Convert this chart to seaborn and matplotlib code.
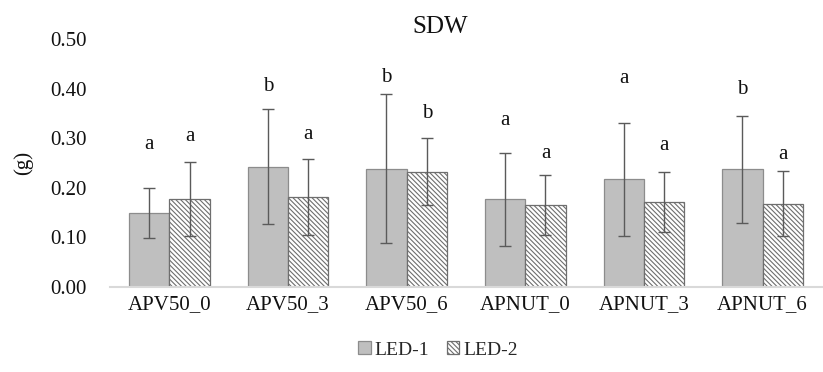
import pandas as pd
import numpy as np
import matplotlib.pyplot as plt
import seaborn as sns
from matplotlib.patches import Patch

# values
treatments = ['APV50_0', 'APV50_3', 'APV50_6', 'APNUT_0', 'APNUT_3', 'APNUT_6']
led1_mean = [0.149, 0.243, 0.239, 0.177, 0.218, 0.238]
led1_sd = [0.051, 0.116, 0.150, 0.094, 0.114, 0.108]
led2_mean = [0.178, 0.182, 0.233, 0.166, 0.172, 0.168]
led2_sd = [0.074, 0.077, 0.068, 0.060, 0.061, 0.066]
led1_letters = ['a', 'b', 'b', 'a', 'a', 'b']
led2_letters = ['a', 'a', 'b', 'a', 'a', 'a']
led1_letter_y = [0.287, 0.405, 0.424, 0.337, 0.422, 0.398]
led2_letter_y = [0.303, 0.309, 0.351, 0.269, 0.285, 0.267]

df = pd.DataFrame({
    'Treatment': treatments * 2,
    'Light': ['LED-1'] * 6 + ['LED-2'] * 6,
    'SDW': led1_mean + led2_mean,
    'SD': led1_sd + led2_sd,
})

sns.set_style('white')
plt.rcParams['font.family'] = ['Liberation Serif', 'DejaVu Serif']
plt.rcParams['hatch.linewidth'] = 0.8

HATCH = '\\' * 7

fig = plt.figure(figsize=(8.23, 3.72), dpi=100)
ax = fig.add_axes([0.1337, 0.2285, 0.865, 0.6655])

sns.barplot(data=df, x='Treatment', y='SDW', hue='Light', order=treatments,
            hue_order=['LED-1', 'LED-2'], palette=['#bfbfbf', 'white'],
            width=0.68, errorbar=None, edgecolor='#8c8c8c', linewidth=0.9,
            legend=False, ax=ax)

bars = ax.patches
led1_bars = bars[:6]
led2_bars = bars[6:12]
for b in led2_bars:
    b.set_hatch(HATCH)
    b.set_edgecolor('#6e6e6e')

for group, means, sds, letters, ly in [
        (led1_bars, led1_mean, led1_sd, led1_letters, led1_letter_y),
        (led2_bars, led2_mean, led2_sd, led2_letters, led2_letter_y)]:
    xs = [b.get_x() + b.get_width() / 2 for b in group]
    ax.errorbar(xs, means, yerr=sds, fmt='none', ecolor='#5a5a5a',
                elinewidth=1, capsize=4.3, capthick=1)
    for x, t, y in zip(xs, letters, ly):
        ax.text(x, y, t, ha='center', va='center', fontsize=15, color='#111111')

ax.set_ylim(0, 0.5)
ax.set_xlim(-0.5, 5.5)
ax.set_yticks(np.arange(0, 0.51, 0.1))
ax.set_yticklabels([f'{v:.2f}' for v in np.arange(0, 0.51, 0.1)])
ax.tick_params(axis='both', length=0, labelsize=15, colors='#111111')
ax.tick_params(axis='y', pad=17)
ax.tick_params(axis='x', pad=6)
ax.set_xlabel('')
ax.set_ylabel('(g)', fontsize=15, labelpad=12, color='#111111')
for s in ['top', 'right', 'left']:
    ax.spines[s].set_visible(False)
ax.spines['bottom'].set_color('#d9d9d9')
ax.spines['bottom'].set_linewidth(1.5)

fig.text(440 / 823, 1 - 27 / 372, 'SDW', ha='center', va='center',
         fontsize=18, color='#111111')

handles = [Patch(facecolor='#bfbfbf', edgecolor='#8c8c8c', linewidth=0.9),
           Patch(facecolor='white', edgecolor='#6e6e6e', hatch=HATCH, linewidth=0.9)]
fig.legend(handles, ['LED-1', 'LED-2'], loc='center', bbox_to_anchor=(438 / 823, 22 / 372),
           ncol=2, frameon=False, fontsize=14, handlelength=0.65, handleheight=0.65,
           handletextpad=0.2, columnspacing=0.9)

fig.savefig('out.png', dpi=100)
